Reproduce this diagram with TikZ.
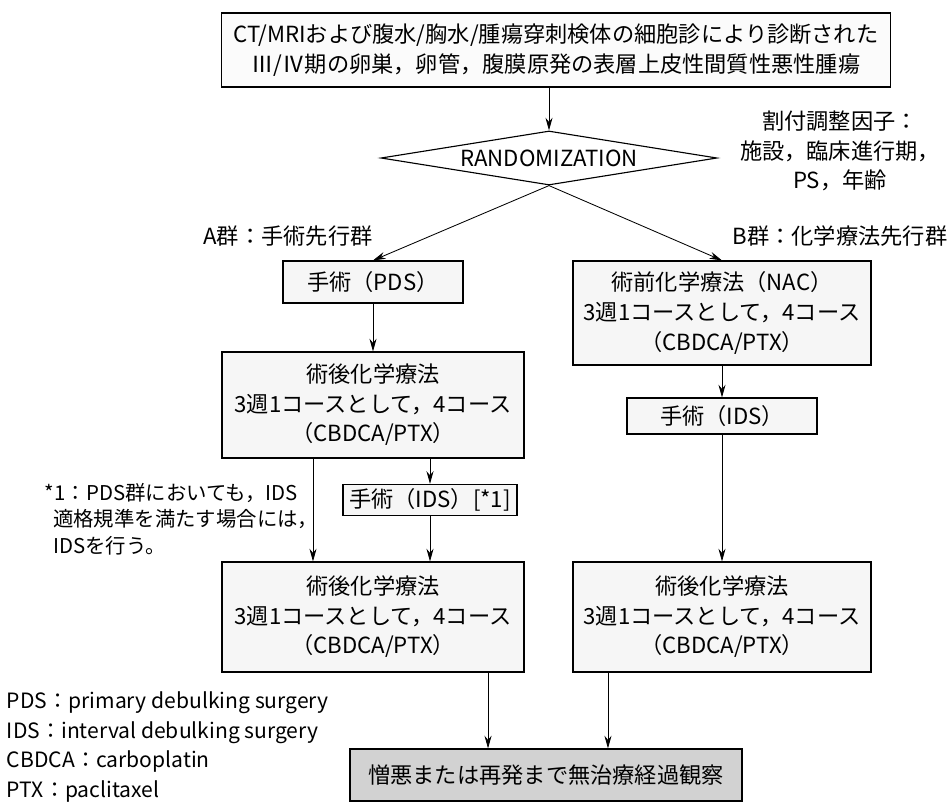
\documentclass[tikz,border=0pt]{standalone}
\usepackage{fontspec}
\setmainfont{Noto Sans CJK JP}
\usetikzlibrary{shapes.geometric,arrows.meta}

\begin{document}
\begin{tikzpicture}[x=0.025cm,y=-0.025cm,
    font=\fontsize{15.8pt}{21pt}\selectfont,
    blk/.style={draw,thick,fill=gray!7,align=center,inner sep=2pt},
    fin/.style={blk,fill=gray!35},
    rnd/.style={draw,thick,diamond,aspect=5.25,inner sep=1pt,
        minimum width=8.4cm},
    arr/.style={-{Stealth[length=9pt,width=5pt]},semithick}]
    \useasboundingbox (0,0) rectangle (949,804);
    % the boxes
    \node[blk,fill=gray!3,minimum width=16.7cm,minimum height=1.85cm]
    (entry) at (556,50)
    {CT/MRIおよび腹水/胸水/腫瘍穿刺検体の細胞診により診断された\\
     Ⅲ/Ⅳ期の卵巣，卵管，腹膜原発の表層上皮性間質性悪性腫瘍};
    \node[rnd] (rand) at (549,158) {RANDOMIZATION};
    \node[blk,minimum width=4.5cm,minimum height=1.05cm] (pds) at
    (373,282) {手術（PDS）};
    \node[blk,minimum width=7.55cm,minimum height=2.65cm] (post1) at
    (373,405) {術後化学療法\\3週1コースとして，4コース\\（CBDCA/PTX）};
    \node[blk,minimum width=4.35cm,minimum height=0.78cm] (ids1) at
    (430,500) {手術（IDS）[*1]};
    \node[blk,minimum width=7.55cm,minimum height=2.75cm] (post2) at
    (373,617) {術後化学療法\\3週1コースとして，4コース\\（CBDCA/PTX）};
    \node[blk,minimum width=7.45cm,minimum height=2.6cm] (nac) at
    (722,313) {術前化学療法（NAC）\\3週1コースとして，4コース\\（CBDCA/PTX）};
    \node[blk,minimum width=4.75cm,minimum height=0.9cm] (ids2) at
    (722,416) {手術（IDS）};
    \node[blk,minimum width=7.45cm,minimum height=2.75cm] (post3) at
    (722,617) {術後化学療法\\3週1コースとして，4コース\\（CBDCA/PTX）};
    \node[fin,minimum width=9.8cm,minimum height=1.3cm] (fin) at
    (546,775) {憎悪または再発まで無治療経過観察};

    % the texts
    \node[align=center] (factor) at (840,151)
    {割付調整因子：\\施設，臨床進行期，\\PS，年齢};
    \node (grpA) at (288,236) {A群：手術先行群};
    \node (grpB) at (840,236) {B群：化学療法先行群};
    \node[align=left,anchor=north west,
        font=\fontsize{14.5pt}{19pt}\selectfont] (note) at (40,478)
    {*1：PDS群においても，IDS\\
     \hspace{0.4em}適格規準を満たす場合には，\\
     \hspace{0.4em}IDSを行う。};
    \node[align=left,anchor=north west,
        font=\fontsize{15pt}{21pt}\selectfont] (legend) at (2,687)
    {PDS：primary debulking surgery\\IDS：interval debulking surgery\\
     CBDCA：carboplatin\\PTX：paclitaxel};

    % the arrows
    \draw[arr] (entry.south -| rand.north) -- (rand.north);
    \draw[arr] (rand.south) -- (pds.north);
    \draw[arr] (rand.south) -- (nac.north);
    \draw[arr] (pds) -- (post1);
    \draw[arr] ([xshift=-1.5cm]post1.south) --
    ([xshift=-1.5cm]post2.north);
    \draw[arr] (post1.south -| ids1.north) -- (ids1.north);
    \draw[arr] (ids1.south) -- (ids1.south |- post2.north);
    \draw[arr] (nac) -- (ids2);
    \draw[arr] (ids2) -- (post3);
    \draw[arr] ([xshift=2.875cm]post2.south) --
    ([xshift=2.875cm]post2.south |- fin.north);
    \draw[arr] ([xshift=-2.85cm]post3.south) --
    ([xshift=-2.85cm]post3.south |- fin.north);
\end{tikzpicture}
\end{document}
